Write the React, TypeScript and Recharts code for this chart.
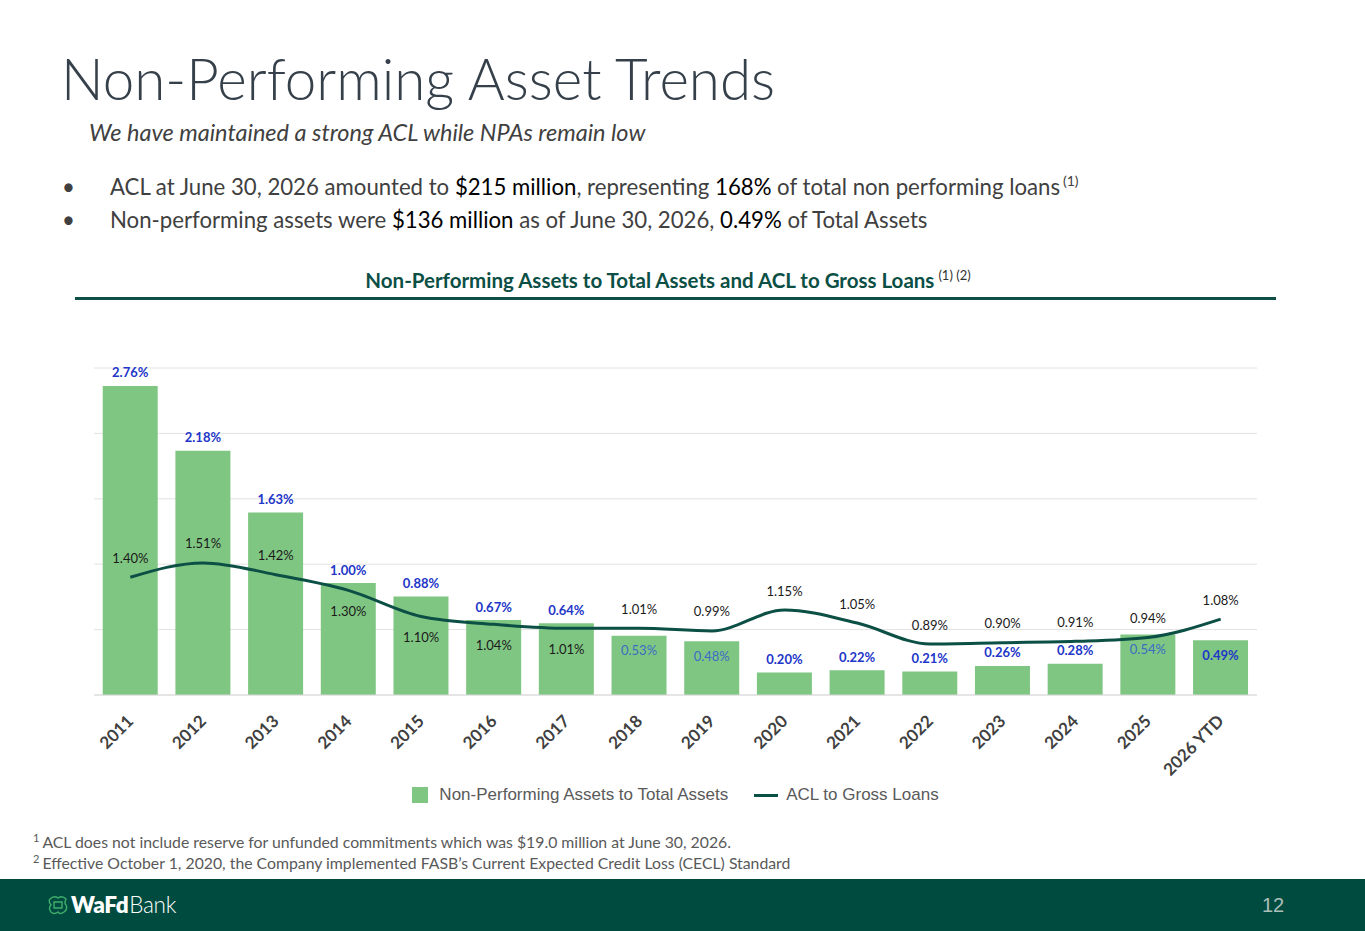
import {
  Bar,
  CartesianGrid,
  ComposedChart,
  LabelList,
  Legend,
  Line,
  XAxis,
  YAxis,
} from "recharts";

const YEARS = [
  "2011", "2012", "2013", "2014", "2015", "2016", "2017", "2018",
  "2019", "2020", "2021", "2022", "2023", "2024", "2025", "2026 YTD",
];
const NPA_TO_ASSETS = [
  2.76, 2.18, 1.63, 1.0, 0.88, 0.67, 0.64, 0.53,
  0.48, 0.2, 0.22, 0.21, 0.26, 0.28, 0.54, 0.49,
];
const ACL_TO_LOANS = [
  1.4, 1.51, 1.42, 1.3, 1.1, 1.04, 1.01, 1.01,
  0.99, 1.15, 1.05, 0.89, 0.9, 0.91, 0.94, 1.08,
];
const ACL_TICKS = [0.5, 1, 1.5, 2, 2.5, 3];

// label placement (style only)
const NPA_INSIDE = [7, 8, 14, 15];
const NPA_LIGHT = [7, 8, 14];
const ACL_BELOW = [3, 4, 5, 6];

const BAR_GREEN = "#80c683";
const LINE_GREEN = "#0b4f45";
const FONT = "Lato, 'Open Sans', sans-serif";

const data = YEARS.map((year, i) => ({
  year,
  npa: NPA_TO_ASSETS[i],
  acl: ACL_TO_LOANS[i],
}));

const pct = (v: number) => `${v.toFixed(2)}%`;

function YearTick({ x, y, payload }: any) {
  return (
    <g transform={`translate(${x},${y + 15}) rotate(-45)`}>
      <text
        x={0}
        y={0}
        dy="0.35em"
        textAnchor="end"
        fill="#404040"
        fontFamily={FONT}
        fontSize={17}
        fontWeight={700}
      >
        {payload.value}
      </text>
    </g>
  );
}

function NpaLabel({ x, y, width, value, index }: any) {
  const inside = NPA_INSIDE.includes(index);
  const light = NPA_LIGHT.includes(index);
  return (
    <text
      x={x + width / 2}
      y={inside ? y + 15 : y - 13}
      dy="0.35em"
      textAnchor="middle"
      fill={light ? "#3a6cc4" : "#2236c8"}
      fontFamily={FONT}
      fontSize={13}
      fontWeight={light ? 400 : 700}
    >
      {pct(value)}
    </text>
  );
}

function AclLabel({ x, y, value, index }: any) {
  const below = ACL_BELOW.includes(index);
  return (
    <text
      x={x}
      y={below ? y + 21 : y - 19}
      dy="0.35em"
      textAnchor="middle"
      fill="#1a1a1a"
      fontFamily={FONT}
      fontSize={13}
    >
      {pct(value)}
    </text>
  );
}

function ChartLegend() {
  const txt = {
    fontFamily: "'Liberation Sans', Arial, sans-serif",
    fontSize: 17,
    color: "#595959",
  };
  return (
    <div
      style={{
        height: 40,
        display: "flex",
        alignItems: "center",
        justifyContent: "center",
      }}
    >
      <span style={{ width: 16, height: 16, background: BAR_GREEN, marginRight: 11 }} />
      <span style={txt}>Non-Performing Assets to Total Assets</span>
      <span
        style={{
          width: 24,
          height: 3,
          background: LINE_GREEN,
          marginLeft: 26,
          marginRight: 8,
        }}
      />
      <span style={txt}>ACL to Gross Loans</span>
    </div>
  );
}

export default function App() {
  const body = { fontFamily: FONT, color: "#404040" };
  const dark = { color: "#000" };
  const sup = { fontSize: 14, position: "relative" as const, top: -9, marginLeft: 3 };
  return (
    <div
      style={{
        position: "absolute",
        left: 0,
        top: 0,
        width: 1365,
        height: 931,
        background: "#fff",
        overflow: "hidden",
        ...body,
      }}
    >
      <div
        style={{
          position: "absolute",
          left: 61,
          top: 42,
          fontSize: 56.5,
          fontWeight: 300,
          color: "#36404a",
          whiteSpace: "nowrap",
          lineHeight: "72px",
        }}
      >
        Non-Performing Asset Trends
      </div>
      <div
        style={{
          position: "absolute",
          left: 89,
          top: 117,
          fontSize: 23.5,
          fontStyle: "italic",
          whiteSpace: "nowrap",
          lineHeight: "30px",
        }}
      >
        We have maintained a strong ACL while NPAs remain low
      </div>
      {[
        <>
          ACL at June 30, 2026 amounted to <span style={dark}>$215 million</span>, representing{" "}
          <span style={dark}>168%</span> of total non performing loans
          <span style={sup}>(1)</span>
        </>,
        <>
          Non-performing assets were <span style={dark}>$136 million</span> as of June 30, 2026,{" "}
          <span style={dark}>0.49%</span> of Total Assets
        </>,
      ].map((t, i) => (
        <div
          key={i}
          style={{
            position: "absolute",
            left: 62,
            top: 172 + i * 33,
            fontSize: 22.2,
            whiteSpace: "nowrap",
            lineHeight: "30px",
          }}
        >
          <span style={{ display: "inline-block", width: 48 }}>•</span>
          {t}
        </div>
      ))}

      <div
        style={{
          position: "absolute",
          left: 0,
          width: 1336,
          top: 266,
          textAlign: "center",
          fontSize: 20.5,
          fontWeight: 700,
          color: "#0c4f45",
          whiteSpace: "nowrap",
          lineHeight: "28px",
        }}
      >
        Non-Performing Assets to Total Assets and ACL to Gross Loans
        <span
          style={{
            fontSize: 13,
            fontWeight: 400,
            marginLeft: 4,
            color: "#333",
            position: "relative",
            top: -8,
          }}
        >
          (1) (2)
        </span>
      </div>
      <div
        style={{
          position: "absolute",
          left: 75,
          top: 297,
          width: 1201,
          height: 3,
          background: "#0e4f48",
        }}
      />

      <div style={{ position: "absolute", left: 0, top: 340 }}>
        <ComposedChart
          width={1365}
          height={475}
          data={data}
          margin={{ top: 28, right: 108, left: 94, bottom: 0 }}
          barCategoryGap="12%"
        >
          <CartesianGrid vertical={false} yAxisId="acl" stroke="#e2e2e2" />
          <XAxis
            dataKey="year"
            height={80}
            interval={0}
            tickLine={false}
            axisLine={{ stroke: "#d9d9d9" }}
            tick={<YearTick />}
          />
          <YAxis yAxisId="npa" hide domain={[0, 2.92]} />
          <YAxis
            yAxisId="acl"
            hide
            domain={[0.5, 3]}
            ticks={ACL_TICKS}
            allowDataOverflow
          />
          <Legend verticalAlign="bottom" height={40} content={<ChartLegend />} />
          <Bar
            yAxisId="npa"
            dataKey="npa"
            name="Non-Performing Assets to Total Assets"
            fill={BAR_GREEN}
            isAnimationActive={false}
          >
            <LabelList dataKey="npa" content={<NpaLabel />} />
          </Bar>
          <Line
            yAxisId="acl"
            dataKey="acl"
            name="ACL to Gross Loans"
            type="monotone"
            stroke={LINE_GREEN}
            strokeWidth={3}
            dot={false}
            activeDot={false}
            isAnimationActive={false}
          >
            <LabelList dataKey="acl" content={<AclLabel />} />
          </Line>
        </ComposedChart>
      </div>

      {[
        ["1", "ACL does not include reserve for unfunded commitments which was $19.0 million at June 30, 2026."],
        ["2", "Effective October 1, 2020, the Company implemented FASB\u2019s Current Expected Credit Loss (CECL) Standard"],
      ].map(([n, t], i) => (
        <div
          key={n}
          style={{
            position: "absolute",
            left: 33,
            top: 831 + i * 21,
            fontSize: 15.8,
            color: "#595959",
            whiteSpace: "nowrap",
            lineHeight: "22px",
          }}
        >
          <span style={{ fontSize: 11, position: "relative", top: -6, marginRight: 3 }}>
            {n}
          </span>
          {t}
        </div>
      ))}

      <div
        style={{
          position: "absolute",
          left: 0,
          top: 879,
          width: 1365,
          height: 52,
          background: "#004b40",
        }}
      >
        <svg
          width={24}
          height={24}
          viewBox="0 0 24 24"
          style={{ position: "absolute", left: 46, top: 14 }}
        >
          <path
            d="M4 6 Q8 2 12 5 Q16 2 20 6 Q18 10 20 12 Q22 16 18 19 Q14 22 12 19 Q8 22 5 19 Q2 15 5 12 Q2 8 4 6 Z M8 9 L16 9 L16 15 L8 15 Z"
            fill="none"
            stroke="#3fae6a"
            strokeWidth={1.4}
          />
        </svg>
        <div
          style={{
            position: "absolute",
            left: 71,
            top: 12,
            color: "#fff",
            fontSize: 22.5,
            lineHeight: "28px",
            whiteSpace: "nowrap",
            letterSpacing: -0.3,
          }}
        >
          <span style={{ fontWeight: 800 }}>WaFd</span>
          <span style={{ fontWeight: 300, marginLeft: 1 }}>Bank</span>
        </div>
        <div
          style={{
            position: "absolute",
            left: 1262,
            top: 13,
            color: "#a9bfb8",
            fontSize: 20,
            fontFamily: "'Liberation Sans', Arial, sans-serif",
            lineHeight: "26px",
          }}
        >
          12
        </div>
      </div>
    </div>
  );
}
